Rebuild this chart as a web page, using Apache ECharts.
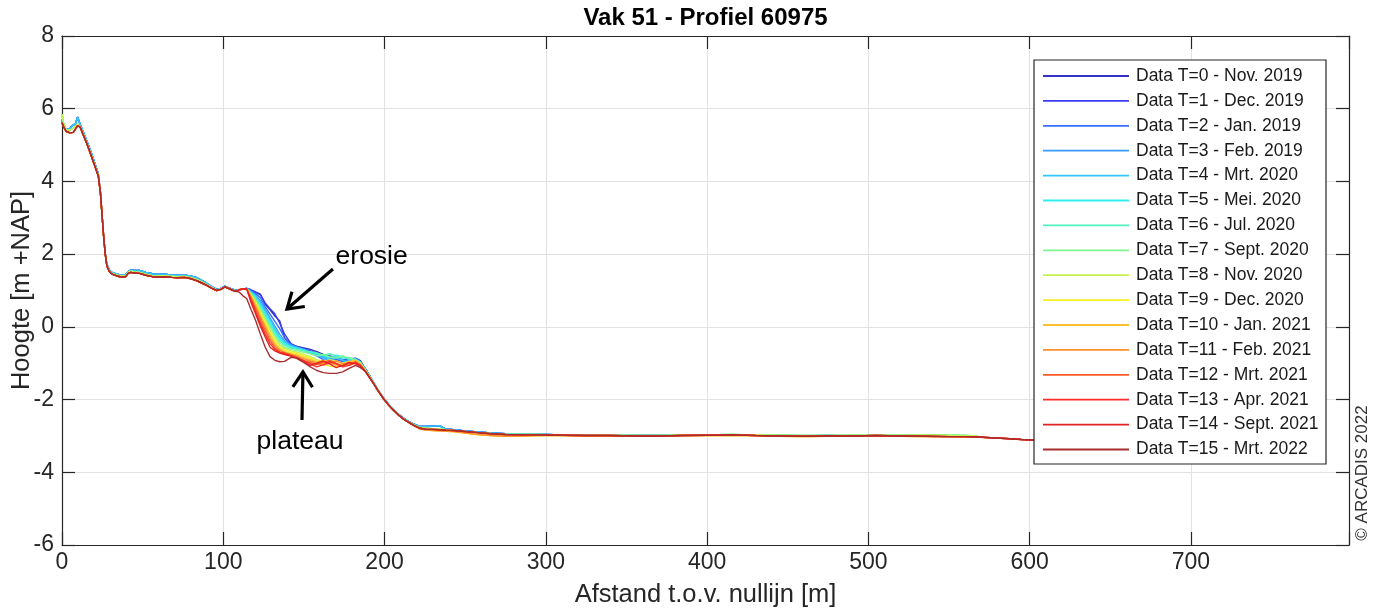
<!DOCTYPE html>
<html><head><meta charset="utf-8">
<script src="https://cdn.jsdelivr.net/npm/echarts@6/dist/echarts.min.js"></script>
<style>html,body{margin:0;padding:0;background:#fff}#c{width:1375px;height:610px}</style>
</head><body><div id="c"></div><script>
// ---- data ----
const xTicks = [0, 100, 200, 300, 400, 500, 600, 700];
const yTicks = [-6, -4, -2, 0, 2, 4, 6, 8];

const seriesNames = ['Data T=0 - Nov. 2019','Data T=1 - Dec. 2019','Data T=2 - Jan. 2019','Data T=3 - Feb. 2019',
  'Data T=4 - Mrt. 2020','Data T=5 - Mei. 2020','Data T=6 - Jul. 2020','Data T=7 - Sept. 2020',
  'Data T=8 - Nov. 2020','Data T=9 - Dec. 2020','Data T=10 - Jan. 2021','Data T=11 - Feb. 2021',
  'Data T=12 - Mrt. 2021','Data T=13 - Apr. 2021','Data T=14 - Sept. 2021','Data T=15 - Mrt. 2022'];

// dune head (shared distances)
const headX = [0,1,2.5,4.5,7, 8.5,9.6,10.4,11.2,13, 15.3,18,20.5,22.5,23.8, 24.8,25.8,26.8,27.8,29.3,
  31,33.9,37,39.5,41, 42.5,45,48,52,56, 60,64,68,72,76, 79.4,83,86,89.7,93, 95.9,98.5,101,103.5,106.2, 108.3];
const headBlue = [5.7,5.52,5.42,5.46,5.55, 5.6,5.77,5.72,5.58,5.38, 5.12,4.8,4.48,4.2,3.72, 3.1,2.5,2.02,1.72,1.56,
  1.5,1.45,1.42,1.44,1.52, 1.56,1.55,1.55,1.5,1.46, 1.44,1.45,1.42,1.42,1.42, 1.4,1.36,1.29,1.2,1.1, 1.03,1.06,1.12,1.07,1.03, 1.0];
const headGreen = [5.85,5.6,5.42,5.4,5.47, 5.52,5.58,5.58,5.52,5.33, 5.08,4.75,4.43,4.17,3.71, 3.1,2.5,2.01,1.7,1.54,
  1.47,1.42,1.4,1.41,1.5, 1.53,1.51,1.5,1.45,1.41, 1.4,1.41,1.39,1.38,1.39, 1.36,1.31,1.25,1.16,1.08, 1.01,1.04,1.11,1.06,1.01, 0.99];
const headRed = [5.62,5.5,5.38,5.34,5.35, 5.45,5.53,5.55,5.5,5.3, 5.05,4.72,4.4,4.15,3.7, 3.1,2.5,2.0,1.68,1.52,
  1.45,1.4,1.37,1.38,1.47, 1.5,1.48,1.47,1.42,1.38, 1.37,1.38,1.36,1.35,1.36, 1.33,1.28,1.22,1.14,1.06, 1.0,1.03,1.1,1.05,1.0, 0.98];

// erosion + plateau zone (shared distances)
const midX = [110,112,114.5,117,120,123,126,129,132,135,138,142,146,150,154,158,162,166,170,174,178,182,185];
const mid0  = [1.02,1.04,1.06,1.02,0.96,0.9,0.62,0.47,0.3,0.16,-0.3,-0.48,-0.54,-0.58,-0.62,-0.68,-0.76,-0.8,-0.84,-0.9,-0.88,-0.86,-0.93];
const mid1  = [1.02,1.04,1.06,1.02,0.95,0.88,0.66,0.5,0.36,0.1,-0.2,-0.46,-0.56,-0.6,-0.66,-0.72,-0.82,-0.86,-0.9,-0.95,-0.9,-0.88,-0.96];
const mid2  = [1.02,1.04,1.06,1.0,0.92,0.8,0.55,0.35,0.15,-0.05,-0.3,-0.5,-0.58,-0.64,-0.72,-0.8,-0.9,-0.96,-0.9,-0.94,-1.0,-0.92,-1.0];
const mid3  = [1.02,1.04,1.06,0.98,0.88,0.72,0.48,0.25,0.02,-0.2,-0.38,-0.5,-0.56,-0.62,-0.7,-0.78,-0.85,-0.92,-0.86,-0.9,-0.95,-0.88,-0.97];
const mid4  = [1.02,1.04,1.06,0.97,0.85,0.66,0.42,0.2,-0.05,-0.28,-0.42,-0.52,-0.58,-0.62,-0.7,-0.76,-0.84,-0.9,-0.84,-0.92,-1.0,-0.9,-0.98];
const mid5  = [1.02,1.04,1.05,0.95,0.82,0.6,0.36,0.12,-0.12,-0.32,-0.46,-0.55,-0.6,-0.64,-0.7,-0.74,-0.8,-0.86,-0.78,-0.82,-0.9,-0.88,-0.96];
const mid6  = [1.02,1.04,1.05,0.94,0.78,0.55,0.3,0.06,-0.18,-0.38,-0.5,-0.58,-0.62,-0.66,-0.68,-0.72,-0.78,-0.74,-0.8,-0.86,-0.84,-0.9,-0.98];
const mid7  = [1.02,1.04,1.05,0.92,0.74,0.5,0.24,0.0,-0.24,-0.44,-0.56,-0.62,-0.66,-0.7,-0.74,-0.8,-0.76,-0.82,-0.86,-0.8,-0.86,-0.92,-1.0];
const mid8  = [1.02,1.04,1.05,0.9,0.7,0.44,0.18,-0.08,-0.32,-0.5,-0.6,-0.66,-0.7,-0.76,-0.82,-0.9,-0.96,-0.9,-0.94,-1.0,-0.96,-0.92,-1.0];
const mid9  = [1.02,1.04,1.05,0.88,0.66,0.38,0.1,-0.16,-0.4,-0.55,-0.64,-0.7,-0.74,-0.8,-0.86,-0.95,-1.02,-1.08,-1.1,-1.04,-1.0,-0.94,-1.02];
const mid10 = [1.02,1.04,1.05,0.86,0.62,0.32,0.04,-0.22,-0.46,-0.6,-0.68,-0.74,-0.78,-0.84,-0.9,-0.96,-0.92,-0.98,-1.06,-1.02,-0.96,-0.92,-1.02];
const mid11 = [1.02,1.04,1.05,0.84,0.56,0.26,-0.02,-0.3,-0.52,-0.64,-0.7,-0.76,-0.82,-0.88,-0.94,-1.0,-1.06,-1.0,-0.94,-1.0,-1.06,-0.98,-1.04];
const mid12 = [1.02,1.04,1.05,0.8,0.5,0.18,-0.1,-0.38,-0.58,-0.68,-0.72,-0.78,-0.84,-0.92,-0.98,-1.04,-0.98,-0.92,-1.0,-1.08,-1.02,-0.96,-1.05];
const mid13 = [1.02,1.04,1.05,0.75,0.42,0.1,-0.2,-0.46,-0.62,-0.7,-0.74,-0.8,-0.86,-0.94,-1.02,-1.1,-1.04,-0.96,-1.02,-1.1,-1.06,-0.98,-1.06];
const mid14 = [1.02,1.04,1.05,0.7,0.36,0.02,-0.28,-0.56,-0.66,-0.72,-0.76,-0.8,-0.88,-0.98,-1.06,-1.0,-0.94,-1.02,-1.12,-1.06,-0.98,-1.02,-1.08];
const mid15 = [0.95,0.86,0.78,0.5,0.18,-0.2,-0.56,-0.82,-0.92,-0.96,-0.95,-0.84,-0.86,-0.98,-1.1,-1.2,-1.26,-1.28,-1.28,-1.24,-1.14,-1.06,-1.12];

// seaward slope and bed (shared distances)
const tailX = [188,190.5,193,196,199.2, 202.3,205.4,208.5,211.6,214.7, 217.8,222,226,230,234, 238,243,250,258,266,
  275,285,295,310,325, 340,355,370,385,400, 415,430,445,460,475, 490,505,520,535,550, 560,568];
const tailBlue = [-1.15,-1.33,-1.52,-1.74,-1.95, -2.12,-2.27,-2.4,-2.51,-2.6, -2.67,-2.74,-2.74,-2.73,-2.72, -2.81,-2.83,-2.86,-2.89,-2.92,
  -2.94,-2.95,-2.95,-2.97,-2.98, -2.98,-2.99,-2.99,-2.98,-2.97, -2.97,-2.98,-2.99,-3.0,-2.99, -3.0,-3.0,-3.01,-3.0,-3.01, -3.01,-3.02];
const tailGreen = [-1.18,-1.35,-1.53,-1.75,-1.96, -2.13,-2.28,-2.41,-2.52,-2.61, -2.69,-2.77,-2.79,-2.8,-2.81, -2.83,-2.85,-2.88,-2.91,-2.93,
  -2.95,-2.96,-2.96,-2.97,-2.98, -2.98,-2.99,-2.99,-2.98,-2.97, -2.96,-2.97,-2.98,-2.99,-2.99, -2.98,-2.98,-2.98,-2.97,-2.98, -2.99,-3.0];
const tailOrange = [-1.2,-1.37,-1.54,-1.76,-1.97, -2.14,-2.29,-2.42,-2.53,-2.62, -2.71,-2.81,-2.84,-2.85,-2.86, -2.87,-2.88,-2.92,-2.96,-2.99,
  -3.01,-3.0,-2.99,-2.99,-3.0, -3.0,-3.01,-3.0,-2.99,-2.99, -2.98,-2.99,-3.01,-3.02,-3.01, -3.0,-3.0,-3.01,-3.02,-3.02, -3.03,-3.04];
const tailRed = [-1.22,-1.38,-1.55,-1.76,-1.97, -2.14,-2.29,-2.42,-2.53,-2.62, -2.70,-2.79,-2.82,-2.82,-2.83, -2.84,-2.85,-2.88,-2.91,-2.94,
  -2.96,-2.97,-2.97,-2.98,-2.99, -2.99,-3.0,-3.0,-2.99,-2.98, -2.97,-2.99,-3.0,-3.01,-3.0, -3.0,-2.99,-3.0,-3.01,-3.02, -3.02,-3.03];
const extX = [576, 585, 595, 604];
const extY = [-3.05, -3.07, -3.1, -3.12];

const seriesColors = ['#3232c4','#3c3cf2','#3a6cff','#3a9cff','#32c6ff','#2eeeee','#4ef2c0','#7ef492',
  '#c6f04e','#f4f01e','#ffbe2e','#ff902e','#ff5a26','#ff2a2a','#e42222','#a82e2e'];
const seriesHeads = [headBlue,headBlue,headBlue,headBlue,headBlue,headGreen,headGreen,headGreen,headGreen,
  headRed,headRed,headRed,headRed,headRed,headRed,headRed];
const seriesMids = [mid0,mid1,mid2,mid3,mid4,mid5,mid6,mid7,mid8,mid9,mid10,mid11,mid12,mid13,mid14,mid15];
const seriesTails = [tailBlue,tailBlue,tailBlue,tailBlue,tailBlue,tailGreen,tailGreen,tailGreen,tailGreen,
  tailOrange,tailOrange,tailOrange,tailRed,tailRed,tailRed,tailRed];
const seriesExtends = [false,false,false,false,false,false,false,false,false,false,false,true,true,true,true,true];

// ---- chart ----
const FONT = '"Liberation Sans", Arial, Helvetica, sans-serif';
const AX = '#262626';
function pts(xs, ys) { return xs.map((x, i) => [x, ys[i]]); }

const series = seriesNames.map((name, i) => {
  let data = pts(headX, seriesHeads[i]).concat(pts(midX, seriesMids[i]), pts(tailX, seriesTails[i]));
  if (seriesExtends[i]) data = data.concat(pts(extX, extY));
  return {
    name, type: 'line', data, symbol: 'none', showSymbol: false, smooth: false,
    lineStyle: { color: seriesColors[i], width: 1.4 }, itemStyle: { color: seriesColors[i] },
    emphasis: { disabled: true }, animation: false, z: 2
  };
});

const chart = echarts.init(document.getElementById('c'), null, { renderer: 'canvas' });
const option = {
  backgroundColor: '#ffffff',
  animation: false,
  textStyle: { fontFamily: FONT },
  title: {
    text: 'Vak 51 - Profiel 60975', left: 705.5, textAlign: 'center', top: 6, padding: 0,
    textStyle: { fontFamily: FONT, fontSize: 24, fontWeight: 'bold', color: '#000' }
  },
  grid: { left: 62, top: 36, right: 26, bottom: 65, containLabel: false, outerBoundsMode: 'none' },
  legend: {
    orient: 'vertical', left: 1043, top: 66, padding: 0, itemGap: 4.9,
    icon: 'rect', itemWidth: 86, itemHeight: 1.8, data: seriesNames, selectedMode: false, z: 10,
    textStyle: { fontFamily: FONT, fontSize: 17.5, color: '#1a1a1a', lineHeight: 20, padding: [0, 0, 0, 2] }
  },
  xAxis: [{
    type: 'value', min: 0, max: 798, interval: 100, position: 'bottom',
    name: 'Afstand t.o.v. nullijn [m]', nameLocation: 'middle', nameGap: 37,
    nameTextStyle: { fontFamily: FONT, fontSize: 25.5, color: AX },
    axisLine: { show: true, onZero: false, lineStyle: { color: AX, width: 1.2 } },
    axisTick: { show: true, inside: true, length: 13, lineStyle: { color: AX, width: 1.2 } },
    axisLabel: { show: true, fontFamily: FONT, fontSize: 23, color: AX, margin: 6,
      formatter: v => (xTicks.indexOf(v) >= 0 ? String(v) : '') },
    splitLine: { show: true, lineStyle: { color: '#e2e2e2', width: 1 } }
  }, {
    type: 'value', min: 0, max: 798, interval: 100, position: 'top',
    axisLine: { show: true, onZero: false, lineStyle: { color: AX, width: 1.2 } },
    axisTick: { show: true, inside: true, length: 13, lineStyle: { color: AX, width: 1.2 } },
    axisLabel: { show: false }, splitLine: { show: false }
  }],
  yAxis: [{
    type: 'value', min: -6, max: 8, interval: 2, position: 'left',
    name: 'Hoogte [m +NAP]', nameLocation: 'middle', nameGap: 27, nameRotate: 90, nameMoveOverlap: false,
    nameTextStyle: { fontFamily: FONT, fontSize: 25.5, color: AX },
    axisLine: { show: true, onZero: false, lineStyle: { color: AX, width: 1.2 } },
    axisTick: { show: true, inside: true, length: 13, lineStyle: { color: AX, width: 1.2 } },
    axisLabel: { show: true, fontFamily: FONT, fontSize: 23, color: AX, margin: 8,
      formatter: v => (yTicks.indexOf(v) >= 0 ? String(v) : '') },
    splitLine: { show: true, lineStyle: { color: '#e2e2e2', width: 1 } }
  }, {
    type: 'value', min: -6, max: 8, interval: 2, position: 'right',
    axisLine: { show: true, onZero: false, lineStyle: { color: AX, width: 1.2 } },
    axisTick: { show: true, inside: true, length: 13, lineStyle: { color: AX, width: 1.2 } },
    axisLabel: { show: false }, splitLine: { show: false }
  }],
  series
};
chart.setOption(option);

// ---- annotations (positioned from data coordinates) ----
const erosieText = { x: 192, y: 1.92 };
const erosieArrow = { from: [168, 1.59], to: [139.5, 0.49] };
const plateauText = { x: 147.6, y: -3.17 };
const plateauArrow = { from: [148.8, -2.56], to: [149.4, -1.24] };

function P(p) { return chart.convertToPixel({ xAxisIndex: 0, yAxisIndex: 0 }, p); }
function arrow(id, a) {
  const s = P(a.from), t = P(a.to);
  const dx = s[0] - t[0], dy = s[1] - t[1], L = Math.hypot(dx, dy);
  const ux = dx / L, uy = dy / L, ang = 33 * Math.PI / 180, len = 18;
  const w1 = [t[0] + len * (ux * Math.cos(ang) - uy * Math.sin(ang)), t[1] + len * (ux * Math.sin(ang) + uy * Math.cos(ang))];
  const w2 = [t[0] + len * (ux * Math.cos(-ang) - uy * Math.sin(-ang)), t[1] + len * (ux * Math.sin(-ang) + uy * Math.cos(-ang))];
  return [
    { type: 'polyline', id: id + 's', z: 20, shape: { points: [s, t] }, style: { stroke: '#000', lineWidth: 3.2, fill: null } },
    { type: 'polyline', id: id + 'h', z: 20, shape: { points: [w1, t, w2] }, style: { stroke: '#000', lineWidth: 3.2, fill: null, lineJoin: 'miter' } }
  ];
}
const et = P([erosieText.x, erosieText.y]);
const pt = P([plateauText.x, plateauText.y]);
const br = P([798, -6]);

chart.setOption({
  graphic: [
    { type: 'rect', id: 'legendBox', z: 5, shape: { x: 1034, y: 60, width: 292, height: 404 },
      style: { fill: '#ffffff', stroke: AX, lineWidth: 1.2 } },
    { type: 'text', id: 'copy', z: 20, x: br[0] + 13, y: br[1] - 72, rotation: Math.PI / 2,
      style: { text: '\u00A9 ARCADIS 2022', fontFamily: FONT, fontSize: 17, fill: '#333', align: 'center', verticalAlign: 'middle' } },
    { type: 'text', id: 'erosie', z: 20, x: et[0], y: et[1],
      style: { text: 'erosie', fontFamily: FONT, fontSize: 26.5, fill: '#000', align: 'center', verticalAlign: 'middle' } },
    { type: 'text', id: 'plateau', z: 20, x: pt[0], y: pt[1],
      style: { text: 'plateau', fontFamily: FONT, fontSize: 26.5, fill: '#000', align: 'center', verticalAlign: 'middle' } }
  ].concat(arrow('ea', erosieArrow), arrow('pa', plateauArrow))
});
</script></body></html>
